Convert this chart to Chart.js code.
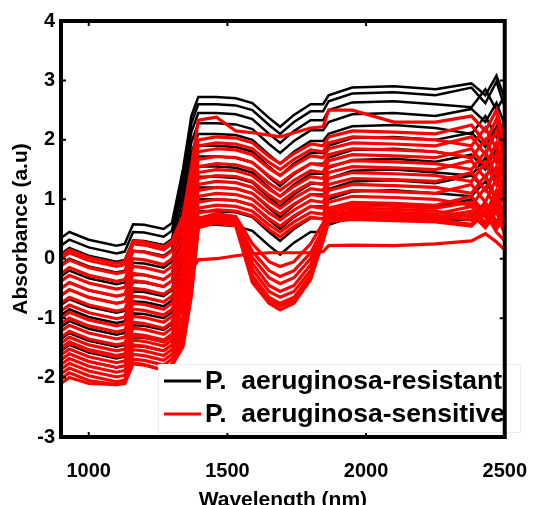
<!DOCTYPE html>
<html>
<head>
<meta charset="utf-8">
<script src="https://cdn.jsdelivr.net/npm/chart.js"></script>
<style>
  html, body { margin: 0; padding: 0; background: #fff; }
</style>
</head>
<body>
<canvas id="myChart" width="549" height="505"></canvas>
<script>
  // wavelengths (nm) shared by every spectrum
  const wavelengths = [900, 930, 1000, 1100, 1130, 1160, 1200, 1270, 1300, 1340, 1370, 1395, 1460, 1530,
    1590, 1650, 1690, 1740, 1800, 1845, 1865, 1950, 2100, 2250, 2380, 2430, 2470, 2500];

  // P. aeruginosa-resistant spectra (black)
  const resistant = [
    [0.35,0.45,0.32,0.22,0.25,0.58,0.57,0.50,0.60,1.51,2.40,2.72,2.72,2.70,2.62,2.37,2.22,2.42,2.60,2.60,2.75,2.88,2.90,2.85,2.95,2.75,3.08,2.70],
    [0.22,0.32,0.19,0.09,0.12,0.45,0.44,0.37,0.47,1.39,2.28,2.60,2.60,2.58,2.50,2.25,2.10,2.30,2.48,2.48,2.65,2.78,2.80,2.75,2.88,2.62,2.98,2.55],
    [0.08,0.18,0.05,-0.05,-0.02,0.31,0.30,0.23,0.33,1.24,2.13,2.45,2.45,2.43,2.35,2.10,1.95,2.15,2.33,2.33,2.50,2.63,2.65,2.60,2.55,2.85,2.50,2.75],
    [-0.10,0.00,-0.13,-0.23,-0.20,0.13,0.12,0.05,0.15,1.07,1.96,2.28,2.28,2.26,2.18,1.93,1.78,1.98,2.16,2.16,2.30,2.43,2.45,2.40,2.52,2.30,2.62,2.25],
    [-0.30,-0.20,-0.33,-0.43,-0.40,-0.07,-0.08,-0.15,-0.05,0.87,1.78,2.10,2.10,2.08,2.00,1.75,1.60,1.80,1.98,1.98,2.10,2.23,2.25,2.20,2.10,2.40,2.05,2.30],
    [-0.50,-0.40,-0.53,-0.63,-0.60,-0.27,-0.28,-0.35,-0.25,0.67,1.58,1.90,1.90,1.88,1.80,1.55,1.40,1.60,1.78,1.78,1.90,2.03,2.05,2.00,2.12,1.88,2.22,1.85],
    [-0.62,-0.52,-0.65,-0.75,-0.72,-0.39,-0.40,-0.47,-0.37,0.53,1.41,1.72,1.72,1.70,1.62,1.37,1.22,1.42,1.60,1.60,1.70,1.83,1.85,1.80,1.70,2.00,1.65,1.90],
    [-0.78,-0.68,-0.81,-0.91,-0.88,-0.55,-0.56,-0.63,-0.53,0.36,1.24,1.55,1.55,1.53,1.45,1.20,1.05,1.25,1.43,1.43,1.53,1.66,1.68,1.63,1.75,1.50,1.85,1.48],
    [-0.95,-0.85,-0.98,-1.08,-1.05,-0.72,-0.73,-0.80,-0.70,0.19,1.07,1.38,1.38,1.36,1.28,1.03,0.88,1.08,1.26,1.26,1.35,1.48,1.50,1.45,1.40,1.70,1.35,1.60],
    [-1.15,-1.05,-1.18,-1.28,-1.25,-0.92,-0.93,-1.00,-0.90,0.00,0.89,1.20,1.20,1.18,1.10,0.85,0.70,0.90,1.08,1.08,1.17,1.30,1.32,1.27,1.40,1.15,1.48,1.12],
    [-1.35,-1.25,-1.38,-1.48,-1.45,-1.12,-1.13,-1.20,-1.10,-0.20,0.69,1.00,1.00,0.98,0.90,0.65,0.50,0.70,0.88,0.88,1.00,1.13,1.15,1.10,1.05,1.30,1.00,1.20],
    [-1.55,-1.45,-1.58,-1.68,-1.65,-1.32,-1.33,-1.40,-1.30,-0.40,0.49,0.80,0.80,0.78,0.70,0.45,0.30,0.50,0.68,0.68,0.77,0.90,0.92,0.87,1.00,0.75,1.08,0.72],
    [-1.70,-1.60,-1.73,-1.83,-1.80,-1.47,-1.48,-1.55,-1.45,-0.58,0.27,0.57,0.57,0.55,0.47,0.22,0.07,0.27,0.45,0.45,0.57,0.70,0.72,0.67,0.65,0.90,0.60,0.80]
  ];

  // P. aeruginosa-sensitive spectra (red)
  const sensitive = [
    [0.05,0.15,0.02,-0.08,-0.05,0.30,0.28,0.20,0.30,0.72,1.55,2.33,2.38,2.15,2.12,2.08,2.05,2.12,2.20,2.22,2.50,2.50,2.30,2.30,2.40,2.15,2.50,2.00],
    [0.00,0.10,-0.03,-0.13,-0.10,0.25,0.23,0.15,0.25,0.61,1.33,2.00,2.05,2.03,1.95,1.72,1.60,1.77,1.93,1.90,2.05,2.15,2.13,2.10,2.25,1.95,2.35,1.90],
    [-0.12,-0.02,-0.15,-0.25,-0.22,0.13,0.11,0.03,0.13,0.49,1.22,1.90,1.95,1.93,1.85,1.62,1.50,1.67,1.83,1.80,1.95,2.05,2.03,2.00,1.90,2.20,1.85,2.10],
    [-0.25,-0.15,-0.28,-0.38,-0.35,0.00,-0.02,-0.10,0.00,0.37,1.11,1.80,1.85,1.83,1.75,1.52,1.40,1.57,1.73,1.70,1.85,1.95,1.93,1.90,2.05,1.75,2.15,1.70],
    [-0.38,-0.28,-0.41,-0.51,-0.48,-0.13,-0.15,-0.23,-0.13,0.24,0.98,1.67,1.72,1.70,1.62,1.39,1.27,1.44,1.60,1.57,1.75,1.85,1.83,1.80,1.70,2.00,1.62,1.95],
    [-0.50,-0.40,-0.53,-0.63,-0.60,-0.25,-0.27,-0.35,-0.25,0.12,0.86,1.55,1.60,1.58,1.50,1.27,1.15,1.32,1.48,1.45,1.65,1.75,1.73,1.70,1.85,1.55,1.95,1.50],
    [-0.62,-0.52,-0.65,-0.75,-0.72,-0.37,-0.39,-0.47,-0.37,0.00,0.75,1.45,1.50,1.48,1.40,1.17,1.05,1.22,1.38,1.35,1.55,1.65,1.63,1.60,1.50,1.80,1.40,1.75],
    [-0.75,-0.65,-0.78,-0.88,-0.85,-0.50,-0.52,-0.60,-0.50,-0.12,0.64,1.35,1.40,1.38,1.30,1.07,0.95,1.12,1.28,1.25,1.45,1.55,1.53,1.50,1.65,1.35,1.75,1.30],
    [-0.88,-0.78,-0.91,-1.01,-0.98,-0.63,-0.65,-0.73,-0.63,-0.24,0.53,1.25,1.30,1.28,1.20,0.97,0.85,1.02,1.18,1.15,1.35,1.45,1.43,1.40,1.30,1.62,1.25,1.55],
    [-1.00,-0.90,-1.03,-1.13,-1.10,-0.75,-0.77,-0.85,-0.75,-0.36,0.42,1.15,1.20,1.18,1.10,0.87,0.75,0.92,1.08,1.05,1.25,1.35,1.33,1.30,1.45,1.15,1.55,1.10],
    [-1.10,-1.00,-1.13,-1.23,-1.20,-0.85,-0.87,-0.95,-0.85,-0.46,0.32,1.05,1.10,1.08,1.00,0.77,0.65,0.82,0.98,0.95,1.15,1.25,1.23,1.20,1.10,1.40,1.02,1.35],
    [-1.22,-1.12,-1.25,-1.35,-1.32,-0.97,-0.99,-1.07,-0.97,-0.58,0.21,0.95,1.00,0.98,0.90,0.67,0.55,0.72,0.88,0.85,1.05,1.15,1.13,1.10,1.25,0.95,1.35,0.90],
    [-1.32,-1.22,-1.35,-1.45,-1.42,-1.07,-1.09,-1.17,-1.07,-0.68,0.11,0.85,0.90,0.88,0.80,0.57,0.45,0.62,0.78,0.75,0.95,1.05,1.03,1.00,0.90,1.20,0.82,1.15],
    [-1.42,-1.32,-1.45,-1.55,-1.52,-1.17,-1.19,-1.27,-1.17,-0.77,0.02,0.77,0.82,0.80,0.72,0.49,0.37,0.54,0.70,0.67,0.85,0.95,0.93,0.90,1.05,0.75,1.15,0.70],
    [-1.52,-1.42,-1.55,-1.65,-1.62,-1.27,-1.29,-1.37,-1.27,-0.97,-0.25,0.68,0.76,0.71,0.25,-0.05,-0.13,-0.05,0.25,0.60,0.85,0.90,0.88,0.85,0.95,0.70,1.05,0.60],
    [-1.62,-1.52,-1.65,-1.75,-1.72,-1.37,-1.39,-1.47,-1.37,-1.06,-0.32,0.64,0.72,0.67,0.12,-0.20,-0.30,-0.20,0.10,0.50,0.80,0.85,0.83,0.80,0.70,0.95,0.62,0.85],
    [-1.70,-1.60,-1.73,-1.83,-1.80,-1.45,-1.47,-1.55,-1.45,-1.13,-0.37,0.62,0.70,0.65,0.02,-0.32,-0.42,-0.32,0.00,0.45,0.75,0.80,0.78,0.75,0.88,0.60,0.95,0.55],
    [-1.78,-1.68,-1.81,-1.91,-1.88,-1.53,-1.55,-1.63,-1.53,-1.20,-0.43,0.60,0.68,0.63,-0.08,-0.45,-0.55,-0.45,-0.10,0.40,0.73,0.78,0.76,0.73,0.65,0.90,0.55,0.80],
    [-1.86,-1.76,-1.89,-1.99,-1.96,-1.61,-1.63,-1.71,-1.61,-1.27,-0.48,0.58,0.66,0.61,-0.18,-0.55,-0.65,-0.55,-0.20,0.35,0.70,0.74,0.72,0.70,0.80,0.55,0.88,0.45],
    [-1.94,-1.84,-1.97,-2.07,-2.04,-1.69,-1.71,-1.79,-1.69,-1.34,-0.53,0.56,0.64,0.59,-0.28,-0.65,-0.75,-0.65,-0.28,0.32,0.66,0.70,0.68,0.66,0.58,0.82,0.50,0.70],
    [-2.02,-1.92,-2.05,-2.12,-2.10,-1.77,-1.79,-1.87,-1.77,-1.41,-0.58,0.54,0.62,0.57,-0.35,-0.70,-0.80,-0.70,-0.32,0.30,0.64,0.68,0.66,0.64,0.75,0.52,0.80,0.40],
    [-2.10,-2.00,-2.10,-2.12,-2.05,-1.75,-1.78,-1.88,-1.80,-1.48,-0.63,0.52,0.60,0.55,-0.40,-0.75,-0.86,-0.75,-0.35,0.30,0.62,0.66,0.64,0.62,0.55,0.78,0.45,0.30],
    [-1.50,-1.40,-1.53,-1.63,-1.60,-1.30,-1.32,-1.40,-1.30,-0.80,-0.20,-0.02,0.00,0.05,0.08,0.10,0.10,0.10,0.10,0.12,0.22,0.23,0.22,0.25,0.30,0.42,0.28,0.15]
  ];

  const xTicks = [1000, 1500, 2000, 2500];
  const yTicks = [-3, -2, -1, 0, 1, 2, 3, 4];
  const seriesNames = ['P.  aeruginosa-resistant', 'P.  aeruginosa-sensitive'];
  const seriesColors = ['#000000', '#ff0000'];

  const FONT = "'Liberation Sans', Arial, sans-serif";
  Chart.defaults.font.family = FONT;
  Chart.defaults.font.weight = 'bold';
  Chart.defaults.color = '#000';

  function toPoints(values) {
    return values.map((v, i) => ({ x: wavelengths[i], y: v }));
  }

  const datasets = [];
  resistant.forEach(s => datasets.push({
    label: seriesNames[0], data: toPoints(s), borderColor: seriesColors[0],
    borderWidth: 2.5, pointRadius: 0, tension: 0, order: 1
  }));
  sensitive.forEach(s => datasets.push({
    label: seriesNames[1], data: toPoints(s), borderColor: seriesColors[1],
    borderWidth: 3.2, pointRadius: 0, tension: 0, order: 0
  }));

  // frame, inward ticks and the legend box, drawn like the original figure
  const framePlugin = {
    id: 'frame',
    afterDatasetsDraw(chart) {
      const { ctx, chartArea: a, scales: { x, y } } = chart;
      ctx.save();

      // inward tick marks
      ctx.strokeStyle = '#000';
      ctx.lineWidth = 2;
      ctx.beginPath();
      xTicks.forEach(v => {
        const px = x.getPixelForValue(v);
        ctx.moveTo(px, a.bottom); ctx.lineTo(px, a.bottom - 5);
        ctx.moveTo(px, a.top); ctx.lineTo(px, a.top + 5);
      });
      yTicks.forEach(v => {
        const py = y.getPixelForValue(v);
        ctx.moveTo(a.left, py); ctx.lineTo(a.left + 5, py);
        ctx.moveTo(a.right, py); ctx.lineTo(a.right - 5, py);
      });
      ctx.stroke();

      // legend
      ctx.fillStyle = '#fff';
      ctx.fillRect(158, 364, 363, 69);
      ctx.strokeStyle = '#ececec';
      ctx.lineWidth = 1;
      ctx.strokeRect(158.5, 364.5, 362, 68);
      const rows = [381, 414];
      rows.forEach((ry, i) => {
        ctx.strokeStyle = seriesColors[i];
        ctx.lineWidth = 3;
        ctx.beginPath();
        ctx.moveTo(164, ry);
        ctx.lineTo(201, ry);
        ctx.stroke();
        ctx.fillStyle = '#000';
        ctx.font = 'bold 26.5px ' + FONT;
        ctx.textBaseline = 'middle';
        ctx.fillText(seriesNames[i], 205, ry + 1);
      });

      // box
      ctx.strokeStyle = '#000';
      ctx.lineWidth = 4;
      ctx.strokeRect(a.left, a.top, a.right - a.left, a.bottom - a.top);
      ctx.restore();
    }
  };

  const ctx = document.getElementById('myChart');

  new Chart(ctx, {
    type: 'line',
    data: { datasets },
    options: {
      responsive: false,
      animation: false,
      layout: { padding: { left: 0, right: 23, top: 21, bottom: 0 } },
      plugins: { legend: { display: false }, tooltip: { enabled: false } },
      scales: {
        x: {
          type: 'linear',
          min: 900,
          max: 2500,
          grid: { display: false, drawTicks: false },
          border: { display: false },
          afterBuildTicks: axis => { axis.ticks = xTicks.map(v => ({ value: v })); },
          afterFit: axis => { axis.height = 68; },
          ticks: {
            font: { size: 20, weight: 'bold' }, padding: 22, maxRotation: 0, autoSkip: false,
            callback: v => String(v)
          },
          title: {
            display: true, text: 'Wavelength (nm)',
            font: { size: 21, weight: 'bold' }, padding: { top: 0, bottom: -8 }
          }
        },
        y: {
          min: -3,
          max: 4,
          grid: { display: false, drawTicks: false },
          border: { display: false },
          afterBuildTicks: axis => { axis.ticks = yTicks.map(v => ({ value: v })); },
          afterFit: axis => { axis.width = 61; },
          ticks: { font: { size: 20, weight: 'bold' }, padding: 6, callback: v => String(v) },
          title: {
            display: true, text: 'Absorbance (a.u)',
            font: { size: 21, weight: 'bold' }, padding: { top: 9, bottom: 0 }
          }
        }
      }
    },
    plugins: [framePlugin]
  });
</script>
</body>
</html>
